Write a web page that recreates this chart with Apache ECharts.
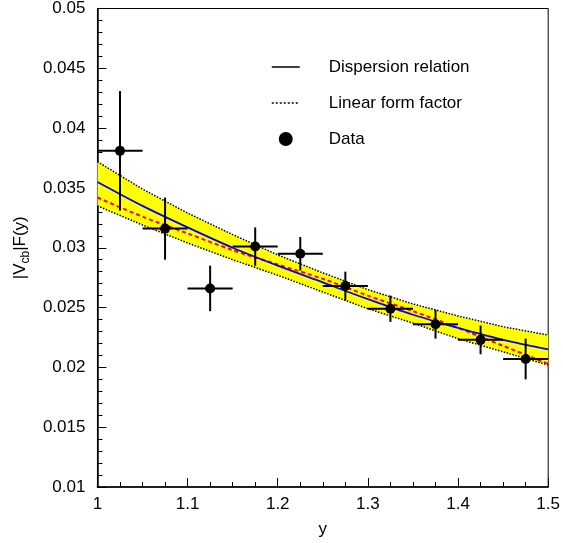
<!DOCTYPE html>
<html>
<head>
<meta charset="utf-8">
<script src="https://cdn.jsdelivr.net/npm/echarts@6/dist/echarts.min.js"></script>
<style>html,body{margin:0;padding:0;background:#fff}#c{width:563px;height:543px}</style>
</head>
<body>
<div id="c"></div>
<script>
// ---- data ----
var curveX      = [1.0, 1.05, 1.1, 1.15, 1.2, 1.25, 1.3, 1.35, 1.4, 1.45, 1.5];
var dispersion  = [0.0355, 0.0335, 0.0317, 0.0300, 0.0285, 0.0271, 0.0257, 0.0244, 0.0233, 0.0223, 0.0215];
var linearFF    = [0.0342, 0.0326, 0.0312, 0.0298, 0.0286, 0.0274, 0.0260, 0.0247, 0.0233, 0.0218, 0.0203];
var bandTop     = [0.0372, 0.0349, 0.0329, 0.0311, 0.0294, 0.0279, 0.0265, 0.0253, 0.0243, 0.0234, 0.0227];
var bandBottom  = [0.0335, 0.0319, 0.0304, 0.0290, 0.0277, 0.0263, 0.0249, 0.0237, 0.0224, 0.0213, 0.0202];

var dataX    = [1.025, 1.075, 1.125, 1.175, 1.225, 1.275, 1.325, 1.375, 1.425, 1.475];
var dataY    = [0.0381, 0.0316, 0.0266, 0.0301, 0.0295, 0.0268, 0.0249, 0.0236, 0.0223, 0.0207];
var dataErrY = [0.0050, 0.0026, 0.0019, 0.0016, 0.0014, 0.0012, 0.0011, 0.0012, 0.0012, 0.0017];
var dataErrX = [0.025, 0.025, 0.025, 0.025, 0.025, 0.025, 0.025, 0.025, 0.025, 0.025];

var xTicks = {min: 1, max: 1.5, interval: 0.1};
var yTicks = {min: 0.01, max: 0.05, interval: 0.005};

var legendNames = ['Dispersion relation', 'Linear form factor', 'Data'];

// ---- build ----
function pairs(xs, ys) { return xs.map(function (x, i) { return [x, ys[i]]; }); }

var FONT = 'Liberation Sans, Arial, sans-serif';
var chart = echarts.init(document.getElementById('c'), null, {renderer: 'canvas'});

var hiddenSym = {color: 'rgba(0,0,0,0)', borderWidth: 0, opacity: 0};

chart.setOption({
  animation: false,
  backgroundColor: '#fff',
  grid: {left: 87, right: 11, top: 4, bottom: 56, show: true, borderColor: '#000', borderWidth: 1, backgroundColor: 'transparent'},
  legend: {
    orient: 'vertical', left: 266, top: 52, itemWidth: 28, itemHeight: 14, itemGap: 16,
    textStyle: {fontFamily: FONT, fontSize: 17, color: '#000', padding: [0, 0, 0, 24], lineHeight: 20},
    data: [
      {name: legendNames[0], itemStyle: hiddenSym, lineStyle: {color: '#000', type: 'solid', width: 1.5}},
      {name: legendNames[1], itemStyle: hiddenSym, lineStyle: {color: '#000', type: [2, 2], width: 1.5}},
      {name: legendNames[2], icon: 'circle', itemStyle: {color: '#000', borderWidth: 0, opacity: 1}}
    ],
    selectedMode: false
  },
  xAxis: {
    type: 'value', min: xTicks.min, max: xTicks.max, interval: xTicks.interval,
    name: 'y', nameLocation: 'middle', nameGap: 34,
    nameTextStyle: {fontFamily: FONT, fontSize: 17, color: '#000'},
    axisLine: {show: true, onZero: false, lineStyle: {color: '#000', width: 1.5}},
    axisTick: {show: true, inside: true, length: 9, lineStyle: {color: '#000', width: 1}},
    minorTick: {show: true, splitNumber: 4, length: 5, lineStyle: {color: '#000', width: 1}},
    axisLabel: {fontFamily: FONT, fontSize: 17, color: '#000', margin: 9},
    splitLine: {show: false}
  },
  yAxis: {
    type: 'value', min: yTicks.min, max: yTicks.max, interval: yTicks.interval,
    name: '|V{sub|cb}|F(y)', nameLocation: 'middle', nameGap: 54,
    nameTextStyle: {fontFamily: FONT, fontSize: 17, color: '#000', lineHeight: 24,
      rich: {sub: {fontFamily: FONT, fontSize: 12, color: '#000', verticalAlign: 'bottom', lineHeight: 24, padding: [8, 0, 0, 0]}}},
    axisLine: {show: true, onZero: false, lineStyle: {color: '#000', width: 1.5}},
    axisTick: {show: true, inside: true, length: 9, lineStyle: {color: '#000', width: 1}},
    minorTick: {show: true, splitNumber: 5, length: 5, lineStyle: {color: '#000', width: 1}},
    axisLabel: {fontFamily: FONT, fontSize: 17, color: '#000', margin: 12},
    splitLine: {show: false}
  },
  series: [
    {type: 'custom', name: 'band', z: 1, silent: true,
      data: curveX.map(function (x, i) { return [x, bandBottom[i], bandTop[i]]; }),
      renderItem: function (params, api) {
        if (params.dataIndex !== 0) return null;
        var upper = [], lower = [];
        for (var i = 0; i < curveX.length; i++) {
          upper.push(api.coord([curveX[i], bandTop[i]]));
          lower.push(api.coord([curveX[i], bandBottom[i]]));
        }
        return {type: 'polygon', shape: {points: upper.concat(lower.reverse())},
          style: {fill: '#ffff00', stroke: null}};
      }},
    {type: 'line', name: 'bandTopEdge', data: pairs(curveX, bandTop), symbol: 'none',
      lineStyle: {color: '#000', type: 'dotted', width: 1.5}, z: 2},
    {type: 'line', name: 'bandBottomEdge', data: pairs(curveX, bandBottom), symbol: 'none',
      lineStyle: {color: '#000', type: 'dotted', width: 1.5}, z: 2},
    {type: 'line', name: legendNames[1], data: pairs(curveX, linearFF), symbol: 'none', smooth: 0.3,
      lineStyle: {color: '#ff0000', type: [4, 3], width: 2}, itemStyle: {color: '#000'}, z: 3},
    {type: 'line', name: legendNames[0], data: pairs(curveX, dispersion), symbol: 'none', smooth: 0.3,
      lineStyle: {color: '#0000ff', width: 1.8}, itemStyle: {color: '#000'}, z: 4},
    {type: 'custom', name: 'errors', z: 5,
      data: dataX.map(function (x, i) { return [x, dataY[i], dataErrX[i], dataErrY[i]]; }),
      renderItem: function (params, api) {
        var x = api.value(0), y = api.value(1), ex = api.value(2), ey = api.value(3);
        var l = api.coord([x - ex, y]), r = api.coord([x + ex, y]);
        var t = api.coord([x, y + ey]), b = api.coord([x, y - ey]);
        var st = {stroke: '#000', lineWidth: 2};
        return {type: 'group', children: [
          {type: 'line', shape: {x1: l[0], y1: l[1], x2: r[0], y2: r[1]}, style: st},
          {type: 'line', shape: {x1: t[0], y1: t[1], x2: b[0], y2: b[1]}, style: st}
        ]};
      }},
    {type: 'scatter', name: legendNames[2], data: pairs(dataX, dataY), symbol: 'circle', symbolSize: 10,
      itemStyle: {color: '#000', opacity: 1}, z: 6}
  ]
});
</script>
</body>
</html>
